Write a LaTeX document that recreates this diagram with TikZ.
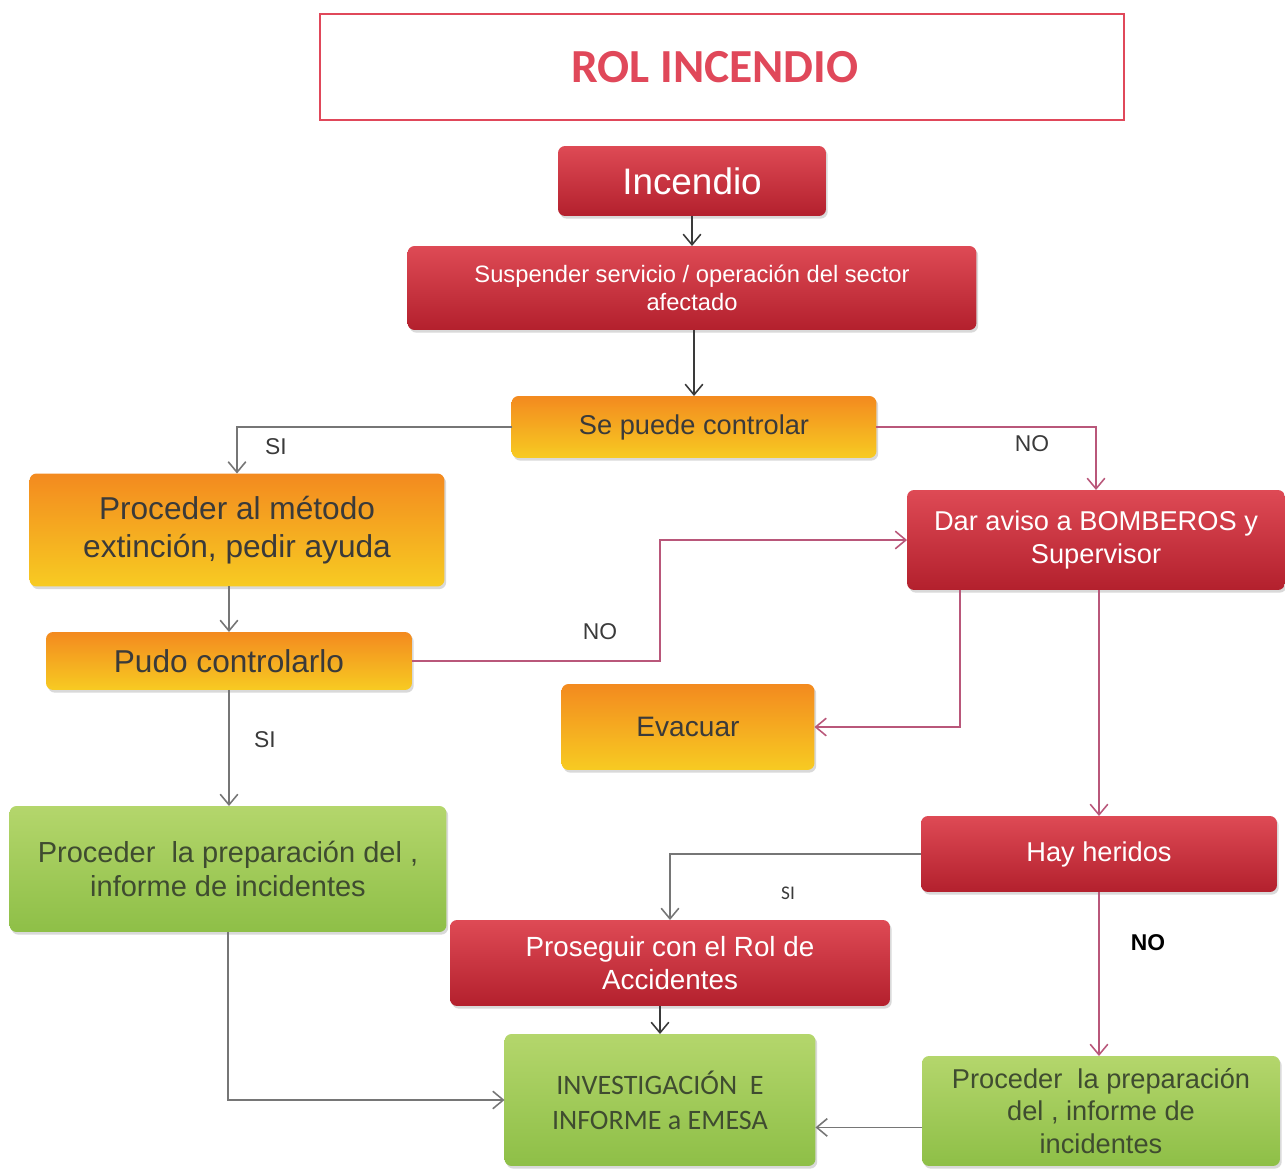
\documentclass[tikz,border=0pt]{standalone}
\usepackage{fontspec}
\setmainfont{Liberation Sans}
\newfontfamily\carlito{Carlito}
\usetikzlibrary{arrows.meta,shadows}
\definecolor{rojoA}{HTML}{DE4A55}
\definecolor{rojoB}{HTML}{B3202D}
\definecolor{naranjaA}{HTML}{F38A1F}
\definecolor{naranjaB}{HTML}{F7CB22}
\definecolor{verdeA}{HTML}{B4D66C}
\definecolor{verdeB}{HTML}{8EBF47}
\definecolor{titulo}{HTML}{E0485A}
\definecolor{rosa}{HTML}{B9577A}
\definecolor{gris}{HTML}{767676}
\definecolor{texto}{HTML}{3A3A3A}
\definecolor{textoverde}{HTML}{3F4C30}

\begin{document}
\begin{tikzpicture}[x=0.02cm,y=-0.02cm,inner sep=2pt,outer sep=0pt,
caja/.style={rectangle,rounded corners=4pt,align=center,drop shadow={shadow xshift=1pt,shadow yshift=-1.5pt,opacity=.3}},
rojo/.style={caja,top color=rojoA,bottom color=rojoB,text=white},
naranja/.style={caja,top color=naranjaA,bottom color=naranjaB,text=texto},
verde/.style={caja,top color=verdeA,bottom color=verdeB,text=textoverde},
flecha/.style={line width=0.9pt,-{Straight Barb[length=6pt,width=10pt]}},
etiqueta/.style={font=\fontsize{13}{15}\selectfont,text=texto}]

\useasboundingbox (0,0) rectangle (1285,1169);

\draw (722,67) node[draw=titulo,line width=1.3pt,minimum width=16.08cm,minimum height=2.12cm] (rol) {};
\draw (715,67) node[text=titulo,font=\carlito\bfseries\fontsize{27}{30}\selectfont] (roltxt) {ROL INCENDIO};
\draw (692,181) node[rojo,minimum width=5.36cm,minimum height=1.4cm,font=\fontsize{21}{24}\selectfont] (inc) {Incendio};
\draw (692,288) node[rojo,minimum width=11.38cm,minimum height=1.68cm,font=\fontsize{13.5}{15.5}\selectfont] (susp) {Suspender servicio / operación del sector\\afectado};
\draw (694,427) node[naranja,minimum width=7.3cm,minimum height=1.24cm,font=\fontsize{15.5}{18}\selectfont] (ctrl) {Se puede controlar};
\draw (237,530) node[naranja,minimum width=8.3cm,minimum height=2.26cm,font=\fontsize{18}{21.5}\selectfont] (metodo) {Proceder al método\\extinción, pedir ayuda};
\draw (229,661) node[naranja,minimum width=7.32cm,minimum height=1.16cm,font=\fontsize{18}{21}\selectfont] (pudo) {Pudo controlarlo};
\draw (688,727) node[naranja,minimum width=5.06cm,minimum height=1.72cm,font=\fontsize{16}{19}\selectfont] (evac) {Evacuar};
\draw (1096,540) node[rojo,minimum width=7.56cm,minimum height=2cm,font=\fontsize{15.5}{19}\selectfont] (aviso) {Dar aviso a BOMBEROS y\\Supervisor};
\draw (1099,854) node[rojo,minimum width=7.12cm,minimum height=1.52cm,font=\fontsize{15.5}{18}\selectfont] (heridos) {Hay heridos};
\draw (228,869) node[verde,minimum width=8.74cm,minimum height=2.52cm,font=\fontsize{16.5}{19}\selectfont] (infizq) {Proceder\ \ la preparación del ,\\informe de incidentes};
\draw (670,963) node[rojo,minimum width=8.8cm,minimum height=1.72cm,font=\fontsize{15.8}{19}\selectfont] (acc) {Proseguir con el Rol de\\Accidentes};
\draw (660,1100) node[verde,minimum width=6.22cm,minimum height=2.64cm,font=\carlito\fontsize{16}{20}\selectfont] (inv) {INVESTIGACIÓN\ \ E\\INFORME a EMESA};
\draw (1101,1111) node[verde,minimum width=7.16cm,minimum height=2.2cm,font=\fontsize{15.5}{18.7}\selectfont] (infder) {Proceder\ \ la preparación\\del , informe de\\incidentes};

% etiquetas de las ramas
\draw (276,447) node[etiqueta] (si1) {SI};
\draw (1032,444) node[etiqueta] (no1) {NO};
\draw (600,632) node[etiqueta] (no2) {NO};
\draw (265,740) node[etiqueta] (si2) {SI};
\draw (788,893) node[etiqueta,font=\carlito\fontsize{11}{13}\selectfont] (si3) {SI};
\draw (1148,943) node[etiqueta,font=\bfseries\fontsize{13}{15}\selectfont,text=black] (no3) {NO};

\draw[flecha,draw=texto] (inc.south) -- (susp.north);
\draw[flecha,draw=texto] (ctrl.north |- susp.south) -- (ctrl.north);
\draw[flecha,draw=gris] (ctrl.west) -| (metodo.north);
\draw[flecha,draw=rosa] (ctrl.east) -| (aviso.north);
\draw[flecha,draw=gris] (pudo.north |- metodo.south) -- (pudo.north);
\draw[flecha,draw=rosa] (pudo.east) -- ++(248,0) |- (aviso.west);
\draw[flecha,draw=rosa] (aviso.south) ++(-136,0) |- (evac.east);
\draw[flecha,draw=rosa] (heridos.north |- aviso.south) -- (heridos.north);
\draw[flecha,draw=gris] (pudo.south) -- (pudo.south |- infizq.north);
\draw[flecha,draw=gris] (heridos.west) -| (acc.north);
\draw[flecha,draw=rosa] (heridos.south) -- (infder.north -| heridos.south);
\draw[flecha,draw=texto] (inv.north |- acc.south) -- (inv.north);
\draw[flecha,draw=gris] (infizq.south) |- (inv.west);
\draw[flecha,draw=gris] (infder.west |- inv.-10) -- (inv.-10);

\end{tikzpicture}
\end{document}
